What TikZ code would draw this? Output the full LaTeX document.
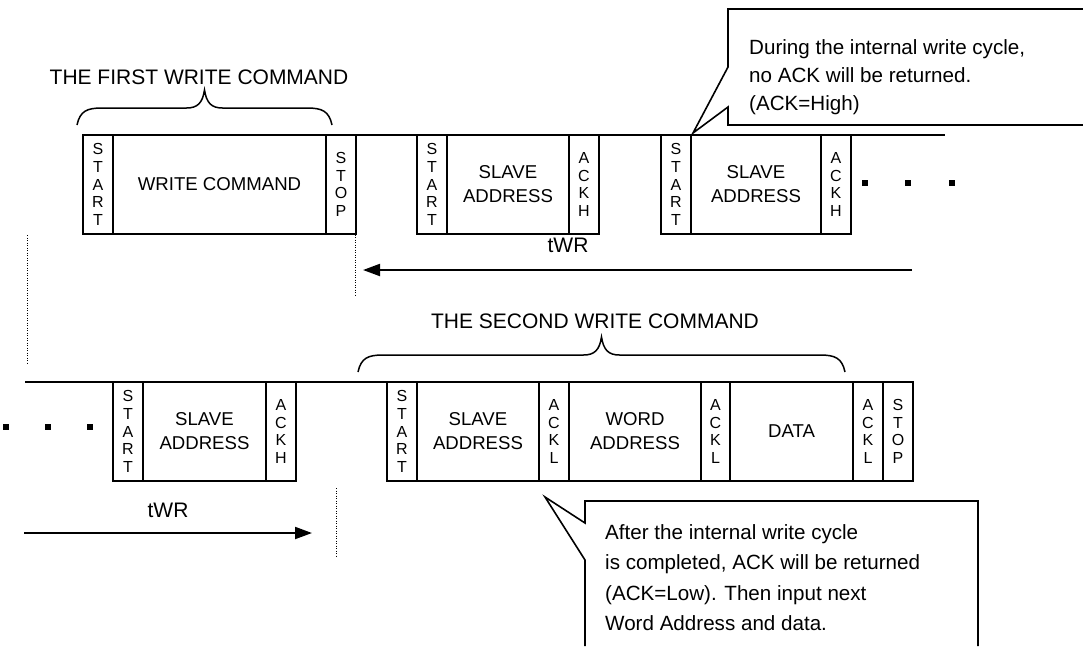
\documentclass[tikz,border=0pt]{standalone}
\usepackage{fontspec}
\setmainfont{Liberation Sans}
\usetikzlibrary{arrows.meta}
\usetikzlibrary{positioning}
\tikzset{
	field/.style={draw, line width=2pt, minimum height=99pt, inner sep=0pt, outer sep=0pt, align=center, font=\fontsize{18.6}{24}\selectfont},
	bitfield/.style={field, minimum width=30pt, font=\fontsize{16}{17.8}\selectfont},
	wire/.style={line width=2pt},
	callout/.style={line width=1.6pt, line join=miter},
	twr/.style={line width=2pt, -{Triangle[length=17pt, width=12pt]}},
	mydots/.style={line width=1pt, dash pattern=on 1pt off 1.5pt},
	bracetext/.style={font=\fontsize{21}{25}\selectfont},
	notetext/.style={font=\fontsize{20.6}{28}\selectfont, align=left, anchor=north west, inner sep=0pt}
}
% curly brace over a group of fields: x left, x right, y of the two ends
\newcommand{\wbrace}[3]{%
	\pgfmathsetmacro{\bmid}{(#1+#2)/2}
	\draw[line width=1.5pt] (#1,#3) .. controls (#1+3,#3-14) and (#1+10,#3-17) .. (#1+25,#3-17)
		-- (\bmid-18,#3-17) .. controls (\bmid-7,#3-17) and (\bmid-2,#3-22) .. (\bmid,#3-35)
		.. controls (\bmid+2,#3-22) and (\bmid+7,#3-17) .. (\bmid+18,#3-17)
		-- (#2-25,#3-17) .. controls (#2-10,#3-17) and (#2-3,#3-14) .. (#2,#3);
}

\begin{document}
\begin{tikzpicture}[x=1pt, y=-1pt]
	\useasboundingbox (0,0) rectangle (1083,646);

	% first write command
	\node[bitfield, anchor=north west] (start1) at (83,135) {S\\T\\A\\R\\T};
	\node[field, minimum width=213pt, right=0pt of start1] (cmd1) {WRITE COMMAND};
	\node[bitfield, right=0pt of cmd1] (stop1) {S\\T\\O\\P};

	% polling during tWR
	\node[bitfield, anchor=north west] (start2) at (417,135) {S\\T\\A\\R\\T};
	\node[field, minimum width=122pt, right=0pt of start2] (slave2) {SLAVE\\ADDRESS};
	\node[bitfield, right=0pt of slave2] (ack2) {A\\C\\K\\H};

	\node[bitfield, anchor=north west] (start3) at (661,135) {S\\T\\A\\R\\T};
	\node[field, minimum width=130pt, right=0pt of start3] (slave3) {SLAVE\\ADDRESS};
	\node[bitfield, right=0pt of slave3] (ack3) {A\\C\\K\\H};

	\coordinate (row1end) at (945,135);
	\draw[wire] (start1.north west) -- (row1end);
	\foreach \x in {865,908,952}
		\fill (\x-3,180) rectangle +(6,6);

	\wbrace{77}{332}{125}
	\node[bracetext] (first) at (199,77) {THE FIRST WRITE COMMAND};

	% tWR, upper
	\coordinate (twr1a) at (912,270);
	\coordinate (twr1b) at (363,270);
	\draw[twr] (twr1a) -- (twr1b);
	\node[bracetext] (twr1) at (568,245) {tWR};
	\draw[mydots] (355,227) -- (355,295);

	% callout, no ack
	\draw[callout] (1083,9) -- (728,9) -- (728,67) -- (693,133) -- (728,107) -- (728,125) -- (1083,125);
	\node[notetext] (note1) at (749,39) {During the internal write cycle,\\no ACK will be returned.\\(ACK=High)};

	% second row
	\draw[mydots] (27,235) -- (27,363);
	\node[bitfield, anchor=north west] (start4) at (113,382) {S\\T\\A\\R\\T};
	\node[field, minimum width=123pt, right=0pt of start4] (slave4) {SLAVE\\ADDRESS};
	\node[bitfield, right=0pt of slave4] (ack4) {A\\C\\K\\H};
	\foreach \x in {6,48,90}
		\fill (\x-3,424) rectangle +(6,6);

	% second write command
	\node[bitfield, anchor=north west] (start5) at (387,382) {S\\T\\A\\R\\T};
	\node[field, minimum width=122pt, right=0pt of start5] (slave5) {SLAVE\\ADDRESS};
	\node[bitfield, right=0pt of slave5] (ack5) {A\\C\\K\\L};
	\node[field, minimum width=132pt, right=0pt of ack5] (word5) {WORD\\ADDRESS};
	\node[bitfield, minimum width=29pt, right=0pt of word5] (ack6) {A\\C\\K\\L};
	\node[field, minimum width=123pt, right=0pt of ack6] (data5) {DATA};
	\node[bitfield, right=0pt of data5] (ack7) {A\\C\\K\\L};
	\node[bitfield, right=0pt of ack7] (stop5) {S\\T\\O\\P};

	\coordinate (row2start) at (25,382);
	\draw[wire] (row2start) -- (stop5.north east);

	\wbrace{358}{845}{372}
	\node[bracetext] (second) at (595,321) {THE SECOND WRITE COMMAND};

	% tWR, lower
	\coordinate (twr2a) at (24,533);
	\coordinate (twr2b) at (312,533);
	\draw[twr] (twr2a) -- (twr2b);
	\node[bracetext] (twr2) at (168,510) {tWR};
	\draw[mydots] (336,488) -- (336,558);

	% callout, ack returned
	\draw[callout] (585,646) -- (585,560) -- (545,497) -- (585,523) -- (585,501) -- (978,501) -- (978,646);
	\node[notetext, font=\fontsize{20.6}{30.5}\selectfont] (note2) at (605,524) {After the internal write cycle\\is completed, ACK will be returned\\(ACK=Low). Then input next\\Word Address and data.};
\end{tikzpicture}
\end{document}
